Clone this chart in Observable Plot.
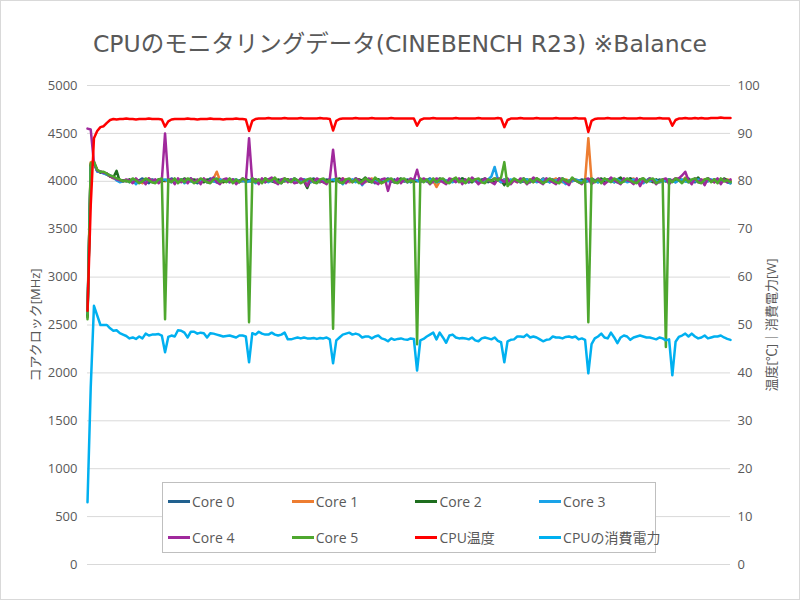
<!DOCTYPE html>
<html>
<head>
<meta charset="utf-8">
<script src="https://cdn.jsdelivr.net/npm/d3@7"></script>
<script src="https://cdn.jsdelivr.net/npm/@observablehq/plot@0.6"></script>
<style>
html,body{margin:0;padding:0;background:#fff;}
#wrap{position:relative;width:800px;height:600px;overflow:hidden;background:#fff;color:#595959;font-family:"Open Sans","Noto Sans CJK JP",sans-serif;}
#title{height:70px;box-sizing:border-box;padding-top:27px;text-align:center;font-size:23.5px;line-height:34px;white-space:nowrap;font-family:"DejaVu Sans","Noto Sans CJK JP",sans-serif;}
#chart svg{display:block;}
#legend{position:absolute;left:162px;top:482px;width:494px;height:71px;box-sizing:border-box;border:1px solid #bfbfbf;background:#fff;}
.item{position:absolute;height:36px;display:flex;align-items:center;font-size:14px;white-space:nowrap;}
.sw{width:22px;height:3px;margin-right:2px;}
#frame{position:absolute;left:0;top:0;width:800px;height:600px;box-sizing:border-box;border:1px solid #d9d9d9;pointer-events:none;}
</style>
</head>
<body>
<div id="wrap">
  <div id="title"></div>
  <div id="chart"></div>
  <div id="legend"></div>
  <div id="frame"></div>
</div>
<script>
const titleText = "CPUのモニタリングデータ(CINEBENCH R23) ※Balance";
const leftLabel = "コアクロック[MHz]";
const rightLabel = "温度[℃]｜消費電力[W]";
const clockTicks = [0,500,1000,1500,2000,2500,3000,3500,4000,4500,5000];
const rightTicks = [0,10,20,30,40,50,60,70,80,90,100];

const seriesNames = ["Core 0","Core 1","Core 2","Core 3","Core 4","Core 5","CPU温度","CPUの消費電力"];
const seriesColors = ["#21618F","#ED7D31","#1E6E1E","#1AA3E8","#A0299C","#4EA72E","#FF0000","#00B0F0"];

const core0 = [2600,4180,4190,4110,4100,4090,4080,4060,4040,4030,4010,4000,4010,
4000,4020,3990,4010,4030,4000,3980,4020,4010,4000,
4020,4010,4000,4030,4010,3990,4020,4000,4010,4030,
4000,3980,4010,4020,4000,4030,4010,3990,4020,4000,
4010,4000,4020,4010,3990,4010,4020,4000,4030,4010,
4000,4020,3990,4010,4030,4000,4010,3980,4020,4010,
4000,4030,4010,3990,4020,4000,4010,4030,4000,3990,
4010,4020,4000,4010,4030,4000,3990,4020,4010,4000,
4030,4010,3990,4020,4000,4010,3980,4020,4000,4010,
4030,4000,4020,3990,4010,4000,4020,4010,3990,4010,
4020,4000,4010,4030,3990,4010,4000,4020,4010,3990,
4020,4000,4010,4030,4000,3990,4020,4010,4000,4020,
4010,3990,4010,4030,4010,4000,4020,4010,3990,4020,
4000,4010,4030,4000,3990,4020,4010,4000,4030,4010,
3990,4020,4000,4010,4030,4000,3990,4020,4010,4000,
4020,4010,4000,4030,4010,3990,4020,4000,4010,4030,
4000,3990,4020,4010,4000,4030,4010,3990,4020,4000,
4010,4030,4000,3990,4020,4010,4000,4020,4010,3990,
4020,4000,4010,4030,4000,3990,4020,4010,4000,4030,
4010,3990,4020,4000,4010,3990,3980];

const core1 = [2650,4200,4210,4120,4100,4090,4080,4050,4030,4020,4000,4010,4000,
4010,3990,4020,4000,3980,4010,4030,4000,4010,3990,
4010,4000,4020,4000,3990,4010,4020,3990,4000,4020,
4010,4000,3990,4020,4010,4000,4030,4100,4010,3990,
4000,4020,4010,3990,4000,4020,4010,4000,4020,4000,
4010,3990,4020,4000,4010,4030,3990,4010,4000,4020,
4010,3990,4000,4020,4010,4000,3990,4020,4010,4000,
4020,4000,3990,4010,4020,4000,4030,4010,3990,4000,
4010,4020,4000,3990,4010,4030,4000,4010,3980,4000,
4020,4010,4000,3990,4010,4020,4000,4010,3990,4010,
4000,4020,4010,4000,4010,3940,4000,4020,4010,3990,
4010,4000,4020,3990,4010,4000,4020,4010,4000,3990,
4020,4010,4000,4030,4010,3990,4010,4020,4000,4010,
3990,4020,4010,4000,4020,3990,4010,4000,4020,4010,
4000,4010,4030,4000,3990,4020,4010,4000,4020,4010,
3990,4010,4450,4010,4000,4020,4010,3990,4010,4020,
4000,4010,3990,4020,4000,4010,4030,4000,3990,4020,
4010,4000,4020,4010,3990,4000,4020,4010,4000,4030,
4010,4000,4040,4010,3990,4020,4000,4010,4020,4000,
4010,3990,4020,4010,4000,4020,4010];

const core2 = [2580,4170,4190,4110,4090,4090,4070,4050,4040,4110,4000,4010,4000,
4020,4000,3990,4010,4000,4020,4010,3990,4000,4020,
4000,4010,4020,4000,4010,3990,4000,4030,4010,4000,
4020,4010,4000,3990,4020,4010,4000,4020,4010,3990,
4010,4020,4000,3990,4010,4000,4020,4010,3990,4020,
4010,4000,4030,4010,4000,3990,4020,4010,4000,4020,
4000,4010,3990,4020,4000,3930,4010,4020,4000,4010,
3990,4010,4020,4000,4010,4030,4000,3990,4020,4010,
4000,4020,4010,4040,4000,3990,4010,4020,4000,4010,
4020,4000,3990,4010,4030,4000,4010,3990,4020,4000,
4010,4020,4000,3990,4010,4000,4030,4010,4000,3990,
4020,4010,4000,4030,4010,4000,3990,4020,4000,4010,
4030,4000,4010,3990,4020,4010,3960,4010,4000,4020,
4010,3990,4000,4020,4010,4000,4030,4010,3990,4000,
4020,4010,4000,4030,4000,4010,3990,4020,4010,4000,
4010,3990,4010,4020,4000,4010,4030,4000,4020,4010,
3990,4020,4040,4000,4010,4030,4000,3990,4020,4030,
4000,4010,3990,4020,4000,4010,4000,4020,4010,4000,
4030,4010,4000,4020,3990,4010,4040,4000,4010,4030,
4000,4020,4010,4000,4030,4010,4000];

const core3 = [2620,4150,4200,4100,4100,4080,4070,4060,4040,4010,3990,4000,4010,
3990,4010,3970,4000,4010,3990,4020,4000,4010,3990,
4010,4020,4000,3990,4010,4000,4020,3980,4010,4000,
3990,4010,4000,4020,3990,4010,4000,3990,4020,4010,
4000,3990,4010,4020,4000,4010,3990,4000,4020,3980,
4010,4000,4020,3990,4010,4000,3980,4020,4010,4000,
4020,3990,4010,4000,4020,4010,3990,4000,4020,4010,
4000,3990,4010,4020,4000,4010,3970,4010,4000,4020,
3990,4010,3960,4000,4020,4010,4000,3990,4020,4010,
4000,4010,3990,4020,4000,4010,3990,4000,4020,4010,
3990,4010,4000,4020,4010,3990,4000,4020,4010,4000,
3990,4010,4020,4000,4010,3990,4020,4000,4010,4000,
3990,4020,4050,4150,4020,3990,4010,4000,4020,4010,
4000,3990,4010,4020,4000,4010,3990,4000,4020,4010,
3990,4000,4010,4020,4000,3970,4010,4000,4020,4010,
4000,3990,4010,4020,4000,3990,4010,4020,4000,4010,
3990,4020,4000,4010,3990,4000,4020,4010,4000,3980,
4010,4000,4020,4010,3990,4000,4010,4020,4000,3990,
4010,4020,4000,3990,4010,4000,4020,4010,3990,4000,
4020,4010,4000,3990,4010,4000,3980];

const core4 = [4550,4540,4190,4110,4100,4090,4080,4050,4040,4020,4010,4000,4020,
4010,3980,4030,3990,4010,3970,4030,4000,4020,3980,
4010,4500,4010,4020,3970,4030,3990,4020,3980,4030,
3990,4020,3970,4030,3990,4010,4040,3990,3970,4020,
4030,3990,4020,3970,4000,4030,4000,4450,3990,4020,
3970,4030,3990,4020,4040,3990,3970,4020,4030,3990,
4020,3980,3990,4030,4010,3950,4020,3990,4030,4010,
3990,3970,4030,4330,4020,3990,4030,3980,4020,3990,
4030,4010,3970,4000,4030,4010,3990,3970,4020,4030,
3900,4020,3990,4030,3980,4020,3990,4030,4010,4120,
3990,4030,4010,3970,4000,4030,4010,3990,3970,4030,
4020,3990,4030,3970,4020,3990,4040,4010,3970,4000,
4030,4010,3990,3970,4030,4020,3990,4030,3970,4010,
3990,4030,4010,3970,4000,4040,4010,3990,3970,4030,
4010,3990,3970,4030,4020,3990,3960,4030,4010,3990,
3970,4020,4030,3970,4000,4030,4010,3970,4000,4040,
4010,3990,3970,4030,4010,4000,3970,4030,3950,4010,
3990,4030,4010,3970,4000,4020,4030,3970,4010,4030,
4030,4060,4100,4010,3970,4030,3990,4020,3960,4030,
4010,3990,4030,3970,4020,3990,4020];

const core5 = [2560,4190,4200,4120,4100,4100,4080,4060,4050,4030,4020,4000,4010,
3990,4030,4010,3980,4000,4030,4010,3990,3980,4020,
4030,2560,4020,3990,4030,3980,4020,3990,4030,4010,
3980,4000,4030,4010,3990,3980,4020,4030,3990,4010,
3990,4030,3980,4020,3990,4030,4010,2530,4030,3990,
4020,3980,4030,4000,4010,4040,3990,3980,4030,4010,
3990,4030,4010,3980,4000,4020,4030,3990,3980,4020,
4030,3990,4010,2460,4030,3990,3980,4020,4030,3990,
4020,3980,4000,4030,4010,3990,4040,4010,3980,4000,
4020,4030,3990,3980,4020,4030,3990,4010,4000,2300,
4030,3990,4020,3980,4030,3990,4020,4030,3990,3980,
4020,4040,3990,4010,3980,4030,4000,4020,4030,3990,
3980,4020,4000,4030,4010,4040,4200,3950,3990,4030,
4010,3990,4030,3980,4020,3990,4030,4010,3980,4000,
4030,4010,3990,3980,4030,4010,3990,4040,4010,3990,
3980,4020,2530,4030,3990,4020,3980,4030,4010,3990,
4030,4010,3980,4000,4030,4010,3990,3980,4020,4030,
3990,4020,4030,3980,4000,4020,2270,4020,3990,4030,
4010,3980,4030,3990,4020,4030,3990,3980,4020,4030,
3990,4020,3980,4030,4000,4010,3990];

const cpuTemp = [53,75,89,90.5,91.3,91.5,92.2,92.8,93,92.9,
93,93,93.1,93,93,92.9,93,93,93,93.1,
93,93,93,92.9,91.4,92.5,92.9,93,93,93,
93,93.1,93,93,92.9,93,93,93,93.1,93,
93,93,92.9,93,93,93,93.1,93,93,92.9,
90.5,92.6,93,93.1,93.1,93.1,93.2,93.1,93.1,93.1,
93.1,93.2,93.1,93.1,93.1,93.1,93.2,93.1,93.1,93.1,
93.1,93.1,93.2,93.1,93.1,93,90.6,92.6,93,93.1,
93.1,93.1,93.1,93.2,93.1,93.1,93.1,93.1,93.2,93.1,
93.1,93.1,93.1,93.1,93.2,93.1,93.1,93.1,93.1,93.1,
93.1,93.1,91.6,92.8,93.1,93.1,93.1,93.2,93.1,93.1,
93.1,93.1,93.1,93.1,93.2,93.1,93.1,93.1,93.1,93.1,
93.1,93.2,93.1,93.1,93.1,93.1,93.1,93.2,93.1,91.3,
92.8,93.1,93.1,93.1,93.2,93.1,93.1,93.1,93.1,93.2,
93.1,93.1,93.1,93.1,93.1,93.2,93.1,93.1,93.1,93.1,
93.1,93.2,93.1,93.1,93.1,90.3,92.6,93,93.1,93.1,
93.1,93.2,93.1,93.1,93.1,93.1,93.2,93.1,93.1,93.1,
93.1,93.2,93.1,93.1,93.1,93.1,93.1,93.2,93.1,93.1,
93.1,91.6,92.8,93.1,93.1,93.2,93.1,93.1,93.2,93.1,
93.2,93.1,93.1,93.2,93.2,93.2,93.3,93.2,93.2,93.2];

const cpuPower = [13,37,54,52,50,50,50,49.3,48.8,48.9,
48.3,48,47.7,47.2,47.4,47.1,47.6,47.2,48.2,47.8,
48,48,48.1,47.8,44.3,47.5,47.8,47.6,48.9,48.8,
48.4,47.4,48.6,48.6,48.2,48.4,48.3,47.4,48.3,48.2,
48,47.8,47.6,47.7,47.8,47.6,47.4,47.8,47.8,47.6,
42.2,48.3,48,48.6,48.2,48,48,48.4,48,47.8,
48,48.4,47,47,47.2,47.4,47.2,47.4,47.2,47.2,
47.3,47.1,47.3,47.2,47.4,47,42,46.8,47.4,48,
48.2,48.4,48,48.2,48,47.4,47.6,47.6,47.2,47.6,
47.8,47.2,47,46.6,47.2,46.9,47.1,47.2,47,46.9,
47.2,47.1,40.5,46.8,47.1,47.6,48,48.4,47,48.4,
47.4,46.3,47.8,48,47.4,47.2,47.3,47.2,47,47.4,
46.8,46.6,47.2,47.4,47.2,47,47.4,46.7,46.4,42.2,
46.6,46.9,47,47.6,47.6,47.5,48,47.4,47.6,47.4,
47,46.6,46.9,47,47.6,47.4,47.4,47.2,47.5,47.6,
47.4,47.6,47,47.2,46.9,39.9,46,47.2,47.6,48.2,
47.4,47.2,48.4,47.4,46.2,47.4,47.8,47.6,46.9,47.4,
47.6,47.8,47.6,47.4,47.4,47.2,47,47.4,47.2,46.8,
47,39.5,46.5,47.5,47.8,48.2,47.6,48.2,47.6,47.2,
47.4,47.8,47.2,47.4,47.6,47.6,47.8,47.4,47.1,46.9];

// right axis (0–100) shares the frame with the left axis (0–5000)
const RATIO = clockTicks[clockTicks.length - 1] / rightTicks[rightTicks.length - 1];
const N = cpuTemp.length;

document.getElementById("title").textContent = titleText;

const clockSeries = [core0, core1, core2, core3, core4, core5];
const lineMarks = clockSeries.map((arr, k) =>
  Plot.line(arr, {x: (d, i) => i, y: d => d, stroke: seriesColors[k], strokeWidth: 2.5})
);
lineMarks.push(Plot.line(cpuTemp, {x: (d, i) => i, y: d => d * RATIO, stroke: seriesColors[6], strokeWidth: 2.5}));
lineMarks.push(Plot.line(cpuPower, {x: (d, i) => i, y: d => d * RATIO, stroke: seriesColors[7], strokeWidth: 2.5}));

const chart = Plot.plot({
  width: 800,
  height: 530,
  marginLeft: 87,
  marginRight: 70,
  marginTop: 15,
  marginBottom: 36,
  style: {fontFamily: '"Open Sans","Noto Sans CJK JP",sans-serif', fontSize: "13px", color: "#595959", background: "transparent"},
  x: {domain: [0, N - 1], axis: null},
  y: {domain: [0, clockTicks[clockTicks.length - 1]]},
  marks: [
    Plot.ruleY(clockTicks, {stroke: "#d9d9d9", strokeWidth: 1}),
    Plot.axisY({ticks: clockTicks, anchor: "left", tickSize: 0, tickPadding: 10, tickFormat: d => String(d), label: null, fontSize: 13}),
    Plot.axisY({ticks: rightTicks.map(v => v * RATIO), anchor: "right", tickSize: 0, tickPadding: 7, tickFormat: d => String(d / RATIO), label: null, fontSize: 13}),
    ...lineMarks,
    Plot.text([leftLabel], {text: d => d, frameAnchor: "left", textAnchor: "middle", dx: -52, rotate: -90, fontSize: 13, fill: "#595959"}),
    Plot.text([rightLabel], {text: d => d, frameAnchor: "right", textAnchor: "middle", dx: 41, rotate: -90, fontSize: 13, fill: "#595959"})
  ]
});
document.getElementById("chart").appendChild(chart);

const legend = document.getElementById("legend");
seriesNames.forEach((name, k) => {
  const col = k % 4, row = Math.floor(k / 4);
  const it = document.createElement("div");
  it.className = "item";
  it.style.left = (5 + col * 123.7) + "px";
  it.style.top = (row * 36) + "px";
  const sw = document.createElement("span");
  sw.className = "sw";
  sw.style.background = seriesColors[k];
  const tx = document.createElement("span");
  tx.textContent = name;
  it.appendChild(sw);
  it.appendChild(tx);
  legend.appendChild(it);
});
</script>
</body>
</html>
